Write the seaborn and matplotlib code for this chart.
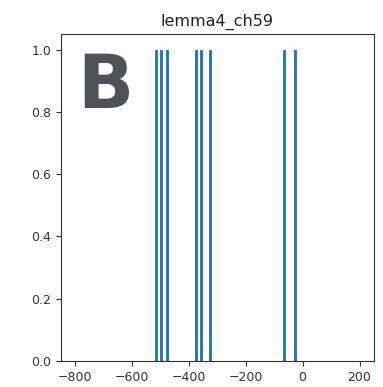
import matplotlib
matplotlib.use("Agg")
import matplotlib.pyplot as plt
import seaborn as sns
import pandas as pd

# Event positions (x) and heights (y)
positions = [-515, -496, -477, -375, -357, -326, -65, -28]
heights = [1.0, 1.0, 1.0, 1.0, 1.0, 1.0, 1.0, 1.0]
title = "lemma4_ch59"
panel_letter = "B"

df = pd.DataFrame({"pos": positions, "h": heights})

fig = plt.figure(figsize=(3.83, 3.87), dpi=100)
ax = fig.add_axes([0.159, 0.067, 0.817, 0.845])

sns.barplot(data=df, x="pos", y="h", native_scale=True, width=0.42,
            color="#1f77b4", saturation=1, edgecolor="#2a6f9e", linewidth=0.6, ax=ax)

ax.set_xlim(-848, 250)
ax.set_ylim(0, 1.05)
ax.set_xticks([-800, -600, -400, -200, 0, 200])
ax.set_yticks([0.0, 0.2, 0.4, 0.6, 0.8, 1.0])
ax.set_yticklabels(["0.0", "0.2", "0.4", "0.6", "0.8", "1.0"])
ax.set_xlabel("")
ax.set_ylabel("")
ax.tick_params(labelsize=9, colors="#333333", length=3.5)
for s in ax.spines.values():
    s.set_color("#333333")
ax.set_title(title, fontsize=11.5, color="#222222", pad=6)

ax.text(0.052, 0.775, panel_letter, transform=ax.transAxes, fontsize=53,
        fontweight="bold", color="#4d5259", ha="left", va="baseline")

fig.savefig("out.png", dpi=100)
